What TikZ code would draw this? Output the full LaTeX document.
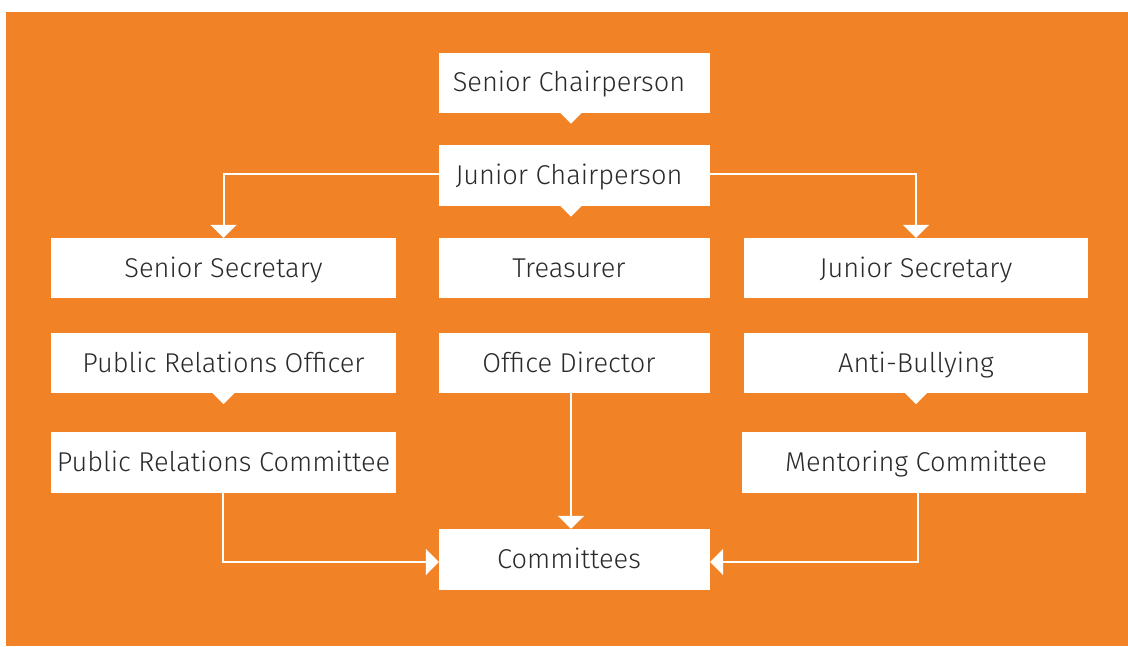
\documentclass[tikz,border=0pt]{standalone}
\usepackage{fontspec}
\setmainfont{Fira Sans Light}
\usetikzlibrary{arrows.meta,calc}
\definecolor{bgorange}{HTML}{F28226}
\definecolor{txtgray}{HTML}{2A2A2A}
\tikzset{
  box/.style={fill=white, draw=none, rectangle, inner sep=0pt, minimum height=60pt, text=txtgray,
    font=\fontsize{27.2}{30}\selectfont, text height=18.7pt, text depth=0pt},
  wide/.style={box, minimum width=345pt},
  mid/.style={box, minimum width=271pt, execute at end node={\hspace*{11pt}}},
  conn/.style={draw=white, line width=2pt, -{Triangle[width=26pt,length=13pt]}},
  pointer/.style={fill=white, draw=none}
}
\newcommand{\pointer}[2]{\fill[pointer] ($(#1.south)+(#2-11,0)$) -- ($(#1.south)+(#2+11,0)$) -- ($(#1.south)+(#2,11)$) -- cycle;}
\begin{document}
\begin{tikzpicture}[x=1pt,y=-1pt]
\useasboundingbox (0,0) rectangle (1128,646);
\fill[white] (0,0) rectangle (1128,646);
\fill[bgorange] (6,12) rectangle (1128,646);

\node[mid] (sc) at (574.5,82.5) {Senior Chairperson};
\node[mid, minimum height=61pt] (jc) at (574.5,175) {Junior Chairperson};
\node[wide] (ss) at (223.5,268) {Senior Secretary};
\node[mid] (tr) at (574.5,268) {Treasurer};
\node[wide, minimum width=344pt] (js) at (916,268) {Junior Secretary};
\node[wide] (pro) at (223.5,363) {Public Relations Officer};
\node[mid] (od) at (574.5,363) {Office Director};
\node[wide, minimum width=344pt] (ab) at (916,363) {Anti-Bullying};
\node[wide, minimum height=61pt] (prc) at (223.5,462.5) {Public Relations Committee};
\node[wide, minimum width=344pt, minimum height=61pt, execute at begin node={\hspace*{5pt}}] (mc) at (913.5,462.5) {Mentoring Committee};
\node[mid, minimum height=61pt] (cm) at (574.5,559.5) {Committees};

\pointer{sc}{-3.5}
\pointer{jc}{-3.5}
\pointer{pro}{0}
\pointer{ab}{0}

\draw[conn] (jc.west |- 0,174) -| (ss.north);
\draw[conn] (jc.east |- 0,174) -| (js.north);
\draw[conn] (od.south -| 571,0) -- (cm.north -| 571,0);
\draw[conn] (prc.south -| 222.5,0) |- (cm.west |- 0,562);
\draw[conn] (mc.south -| 917.5,0) |- (cm.east |- 0,562);
\end{tikzpicture}
\end{document}
